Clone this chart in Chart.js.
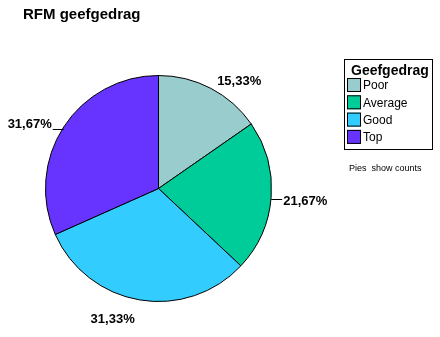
<!DOCTYPE html>
<html>
<head>
<meta charset="utf-8">
<script src="https://cdn.jsdelivr.net/npm/chart.js@4/dist/chart.umd.min.js"></script>
<style>
  html, body { margin: 0; padding: 0; background: #fff; }
  #wrap { position: relative; width: 440px; height: 337px; }
</style>
</head>
<body>
<div id="wrap"><canvas id="pie" width="440" height="337"></canvas></div>
<script>
// --- data ---
const categories = ['Poor', 'Average', 'Good', 'Top'];
const percentages = [15.33, 21.67, 31.33, 31.67];
const sliceColors = ['#99CCCC', '#00CC99', '#33CCFF', '#6633FF'];
const chartTitle = 'RFM geefgedrag';
const legendTitle = 'Geefgedrag';
const footNote = 'Pies  show counts';

const FONT = '"Liberation Sans", Arial, sans-serif';

// labels outside the slices + title + boxed legend
const decorations = {
    id: 'decorations',
    afterDraw(chart) {
        const ctx = chart.ctx;
        ctx.save();

        // title
        ctx.fillStyle = '#000';
        ctx.font = 'bold 15px ' + FONT;
        ctx.textBaseline = 'middle';
        ctx.textAlign = 'left';
        ctx.fillText(chartTitle, 23, 15);

        // percentage labels, leader lines kept short
        const meta = chart.getDatasetMeta(0);
        ctx.font = 'bold 13px ' + FONT;
        ctx.strokeStyle = '#000';
        ctx.lineWidth = 1;
        meta.data.forEach((arc, i) => {
            const mid = (arc.startAngle + arc.endAngle) / 2;
            const cos = Math.cos(mid), sin = Math.sin(mid);
            const r = arc.outerRadius;
            const x0 = arc.x + cos * r, y0 = arc.y + sin * r;
            const txt = percentages[i].toFixed(2).replace('.', ',') + '%';
            let tx, ty;
            if (Math.abs(cos) > 0.6) {
                // side label with horizontal leader
                const dir = Math.sign(cos);
                const y = Math.round(y0 + 2) + 0.5;
                ctx.beginPath();
                ctx.moveTo(x0, y);
                ctx.lineTo(x0 + dir * 11, y);
                ctx.stroke();
                ctx.textAlign = dir > 0 ? 'left' : 'right';
                tx = x0 + dir * 12;
                ty = dir > 0 ? y0 + 5 : y0 - 3;
            } else {
                ctx.textAlign = 'center';
                tx = arc.x + cos * (r + 18) - (sin > 0 ? 24 : -20);
                ty = arc.y + sin * (r + 18) + (sin > 0 ? 2 : 9);
            }
            ctx.fillText(txt, tx, ty);
        });

        // legend box
        ctx.lineWidth = 1;
        ctx.strokeStyle = '#000';
        ctx.strokeRect(344.5, 59.5, 88, 90);
        ctx.textAlign = 'left';
        ctx.font = 'bold 14px ' + FONT;
        ctx.fillText(legendTitle, 351, 71);
        ctx.font = '12px ' + FONT;
        categories.forEach((c, i) => {
            const y = 85 + i * 17.3;
            ctx.fillStyle = sliceColors[i];
            ctx.fillRect(347, y - 7, 14, 14);
            ctx.strokeRect(347.5, y - 6.5, 13, 13);
            ctx.fillStyle = '#000';
            ctx.fillText(c, 363, y + 1);
        });

        ctx.font = '9px ' + FONT;
        ctx.fillText(footNote, 349, 169);
        ctx.restore();
    }
};

new Chart(document.getElementById('pie'), {
    type: 'pie',
    data: {
        labels: categories,
        datasets: [{
            data: percentages,
            backgroundColor: sliceColors,
            borderColor: '#000',
            borderWidth: 1
        }]
    },
    options: {
        responsive: false,
        animation: false,
        layout: { padding: { left: 45, right: 168, top: 75, bottom: 35 } },
        plugins: {
            legend: { display: false },
            tooltip: { enabled: false }
        }
    },
    plugins: [decorations]
});
</script>
</body>
</html>
